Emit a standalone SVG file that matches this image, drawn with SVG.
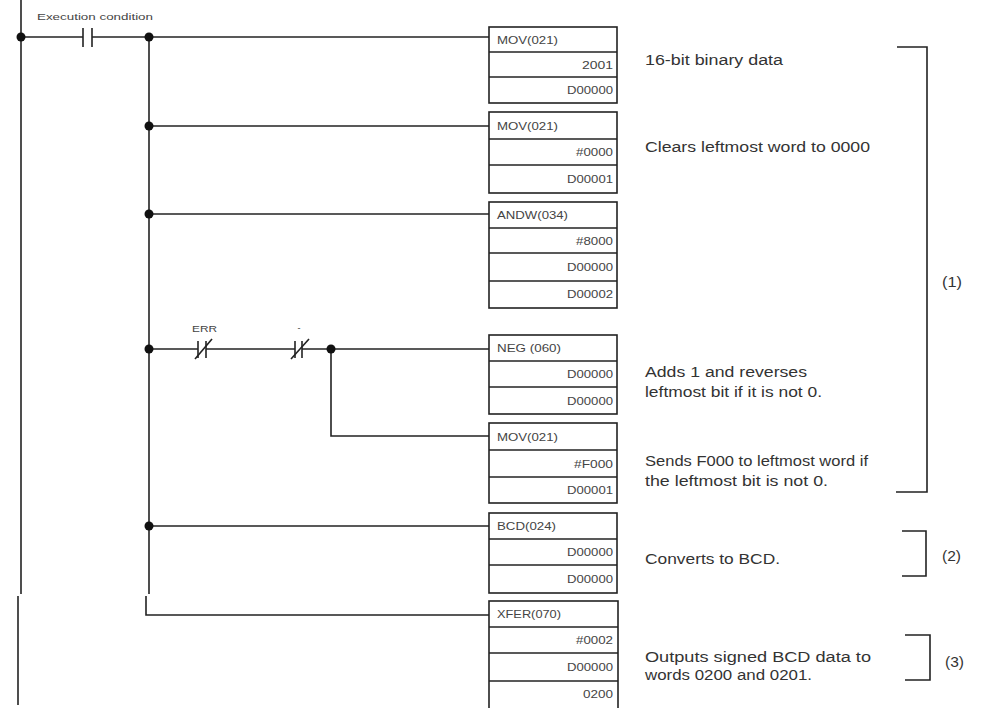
<svg xmlns="http://www.w3.org/2000/svg" width="982" height="708" viewBox="0 0 982 708">
<style>
.ln{stroke:#222;stroke-width:1.6;fill:none}
.bx{stroke:#222;stroke-width:1.6;fill:#fff}
.dot{fill:#111}
.bt{font-family:"Liberation Sans",Arial,sans-serif;font-size:11px;fill:#444}
.bv{font-family:"Liberation Sans",Arial,sans-serif;font-size:11px;fill:#444;text-anchor:end}
.dt{font-family:"Liberation Sans",Arial,sans-serif;font-size:14px;fill:#333}
.sm{font-family:"Liberation Sans",Arial,sans-serif;font-size:9px;fill:#444}
</style>
<rect width="982" height="708" fill="#fff"/>
<g id="connectors">
<line class="ln" x1="21" y1="0" x2="21" y2="594"/>
<line class="ln" x1="18" y1="596" x2="18" y2="705"/>
<line class="ln" x1="149" y1="37" x2="149" y2="594"/>
<polyline class="ln" points="146,596 146,615 489,615"/>
<line class="ln" x1="21" y1="37" x2="83" y2="37"/>
<line class="ln" x1="92" y1="37" x2="489" y2="37"/>
<line class="ln" x1="149" y1="126" x2="489" y2="126"/>
<line class="ln" x1="149" y1="214" x2="489" y2="214"/>
<line class="ln" x1="149" y1="349" x2="198" y2="349"/>
<line class="ln" x1="206" y1="349" x2="295" y2="349"/>
<line class="ln" x1="302" y1="349" x2="489" y2="349"/>
<polyline class="ln" points="331,349 331,436 489,436"/>
<line class="ln" x1="149" y1="526" x2="489" y2="526"/>
<circle class="dot" cx="21" cy="37" r="4.5"/>
<circle class="dot" cx="149" cy="37" r="4.5"/>
<circle class="dot" cx="149" cy="126" r="4.5"/>
<circle class="dot" cx="149" cy="214" r="4.5"/>
<circle class="dot" cx="149" cy="349" r="4.5"/>
<circle class="dot" cx="331" cy="349" r="4.5"/>
<circle class="dot" cx="149" cy="526" r="4.5"/>
</g>
<g id="contact-exec">
<line class="ln" x1="83" y1="28" x2="83" y2="47"/>
<line class="ln" x1="92" y1="28" x2="92" y2="47"/>
<text class="sm" x="37" y="20" textLength="116" lengthAdjust="spacingAndGlyphs">Execution condition</text>
</g>
<g id="contact-err">
<line class="ln" x1="198" y1="341" x2="198" y2="358"/>
<line class="ln" x1="206" y1="341" x2="206" y2="358"/>
<line class="ln" x1="195" y1="359" x2="212" y2="339"/>
<text class="sm" x="192" y="332" textLength="25" lengthAdjust="spacingAndGlyphs">ERR</text>
</g>
<g id="contact-neg">
<line class="ln" x1="295" y1="341" x2="295" y2="358"/>
<line class="ln" x1="302" y1="341" x2="302" y2="358"/>
<line class="ln" x1="291" y1="359" x2="309" y2="339"/>
<text class="sm" x="299" y="331" text-anchor="middle">-</text>
</g>
<g id="mov1">
<rect class="bx" x="489" y="27" width="128" height="76"/>
<line class="ln" x1="489" y1="52" x2="617" y2="52"/>
<line class="ln" x1="489" y1="77" x2="617" y2="77"/>
<text class="bt" x="497" y="44" textLength="61" lengthAdjust="spacingAndGlyphs">MOV(021)</text>
<text class="bv" x="613" y="69" textLength="31" lengthAdjust="spacingAndGlyphs">2001</text>
<text class="bv" x="613" y="94" textLength="46" lengthAdjust="spacingAndGlyphs">D00000</text>
</g>
<g id="mov2">
<rect class="bx" x="489" y="112" width="128" height="81"/>
<line class="ln" x1="489" y1="139" x2="617" y2="139"/>
<line class="ln" x1="489" y1="165" x2="617" y2="165"/>
<text class="bt" x="497" y="130" textLength="61" lengthAdjust="spacingAndGlyphs">MOV(021)</text>
<text class="bv" x="613" y="156" textLength="37" lengthAdjust="spacingAndGlyphs">#0000</text>
<text class="bv" x="613" y="183" textLength="46" lengthAdjust="spacingAndGlyphs">D00001</text>
</g>
<g id="andw">
<rect class="bx" x="489" y="202" width="128" height="106"/>
<line class="ln" x1="489" y1="228" x2="617" y2="228"/>
<line class="ln" x1="489" y1="253" x2="617" y2="253"/>
<line class="ln" x1="489" y1="281" x2="617" y2="281"/>
<text class="bt" x="497" y="219" textLength="71" lengthAdjust="spacingAndGlyphs">ANDW(034)</text>
<text class="bv" x="613" y="245" textLength="37" lengthAdjust="spacingAndGlyphs">#8000</text>
<text class="bv" x="613" y="271" textLength="46" lengthAdjust="spacingAndGlyphs">D00000</text>
<text class="bv" x="613" y="298" textLength="46" lengthAdjust="spacingAndGlyphs">D00002</text>
</g>
<g id="neg">
<rect class="bx" x="489" y="335" width="128" height="79"/>
<line class="ln" x1="489" y1="361" x2="617" y2="361"/>
<line class="ln" x1="489" y1="387" x2="617" y2="387"/>
<text class="bt" x="497" y="352" textLength="64" lengthAdjust="spacingAndGlyphs">NEG (060)</text>
<text class="bv" x="613" y="378" textLength="46" lengthAdjust="spacingAndGlyphs">D00000</text>
<text class="bv" x="613" y="405" textLength="46" lengthAdjust="spacingAndGlyphs">D00000</text>
</g>
<g id="mov3">
<rect class="bx" x="489" y="423" width="128" height="80"/>
<line class="ln" x1="489" y1="450" x2="617" y2="450"/>
<line class="ln" x1="489" y1="477" x2="617" y2="477"/>
<text class="bt" x="497" y="441" textLength="61" lengthAdjust="spacingAndGlyphs">MOV(021)</text>
<text class="bv" x="613" y="468" textLength="39" lengthAdjust="spacingAndGlyphs">#F000</text>
<text class="bv" x="613" y="494" textLength="46" lengthAdjust="spacingAndGlyphs">D00001</text>
</g>
<g id="bcd">
<rect class="bx" x="489" y="513" width="128" height="80"/>
<line class="ln" x1="489" y1="539" x2="617" y2="539"/>
<line class="ln" x1="489" y1="565" x2="617" y2="565"/>
<text class="bt" x="497" y="530" textLength="59" lengthAdjust="spacingAndGlyphs">BCD(024)</text>
<text class="bv" x="613" y="556" textLength="46" lengthAdjust="spacingAndGlyphs">D00000</text>
<text class="bv" x="613" y="583" textLength="46" lengthAdjust="spacingAndGlyphs">D00000</text>
</g>
<g id="xfer">
<rect class="bx" x="489" y="601" width="129" height="108"/>
<line class="ln" x1="489" y1="627" x2="618" y2="627"/>
<line class="ln" x1="489" y1="653" x2="618" y2="653"/>
<line class="ln" x1="489" y1="681" x2="618" y2="681"/>
<text class="bt" x="497" y="618" textLength="64" lengthAdjust="spacingAndGlyphs">XFER(070)</text>
<text class="bv" x="613" y="644" textLength="37" lengthAdjust="spacingAndGlyphs">#0002</text>
<text class="bv" x="613" y="671" textLength="46" lengthAdjust="spacingAndGlyphs">D00000</text>
<text class="bv" x="613" y="698" textLength="30" lengthAdjust="spacingAndGlyphs">0200</text>
</g>
<g id="notes">
<text class="dt" x="645" y="65" textLength="138" lengthAdjust="spacingAndGlyphs">16-bit binary data</text>
<text class="dt" x="645" y="152" textLength="225" lengthAdjust="spacingAndGlyphs">Clears leftmost word to 0000</text>
<text class="dt" x="645" y="377" textLength="162" lengthAdjust="spacingAndGlyphs">Adds 1 and reverses</text>
<text class="dt" x="645" y="397" textLength="177" lengthAdjust="spacingAndGlyphs">leftmost bit if it is not 0.</text>
<text class="dt" x="645" y="466" textLength="223" lengthAdjust="spacingAndGlyphs">Sends F000 to leftmost word if</text>
<text class="dt" x="645" y="486" textLength="183" lengthAdjust="spacingAndGlyphs">the leftmost bit is not 0.</text>
<text class="dt" x="645" y="564" textLength="135" lengthAdjust="spacingAndGlyphs">Converts to BCD.</text>
<text class="dt" x="645" y="662" textLength="226" lengthAdjust="spacingAndGlyphs">Outputs signed BCD data to</text>
<text class="dt" x="645" y="680" textLength="167" lengthAdjust="spacingAndGlyphs">words 0200 and 0201.</text>
</g>
<g id="brackets">
<polyline class="ln" points="897,47 927,47 927,492 896,492"/>
<polyline class="ln" points="902,531 926,531 926,576 902,576"/>
<polyline class="ln" points="905,635 930,635 930,680 905,680"/>
<text class="dt" x="942" y="287" font-size="12" textLength="20" lengthAdjust="spacingAndGlyphs">(1)</text>
<text class="dt" x="942" y="561" font-size="12" textLength="19" lengthAdjust="spacingAndGlyphs">(2)</text>
<text class="dt" x="945" y="667" font-size="12" textLength="19" lengthAdjust="spacingAndGlyphs">(3)</text>
</g>
</svg>
